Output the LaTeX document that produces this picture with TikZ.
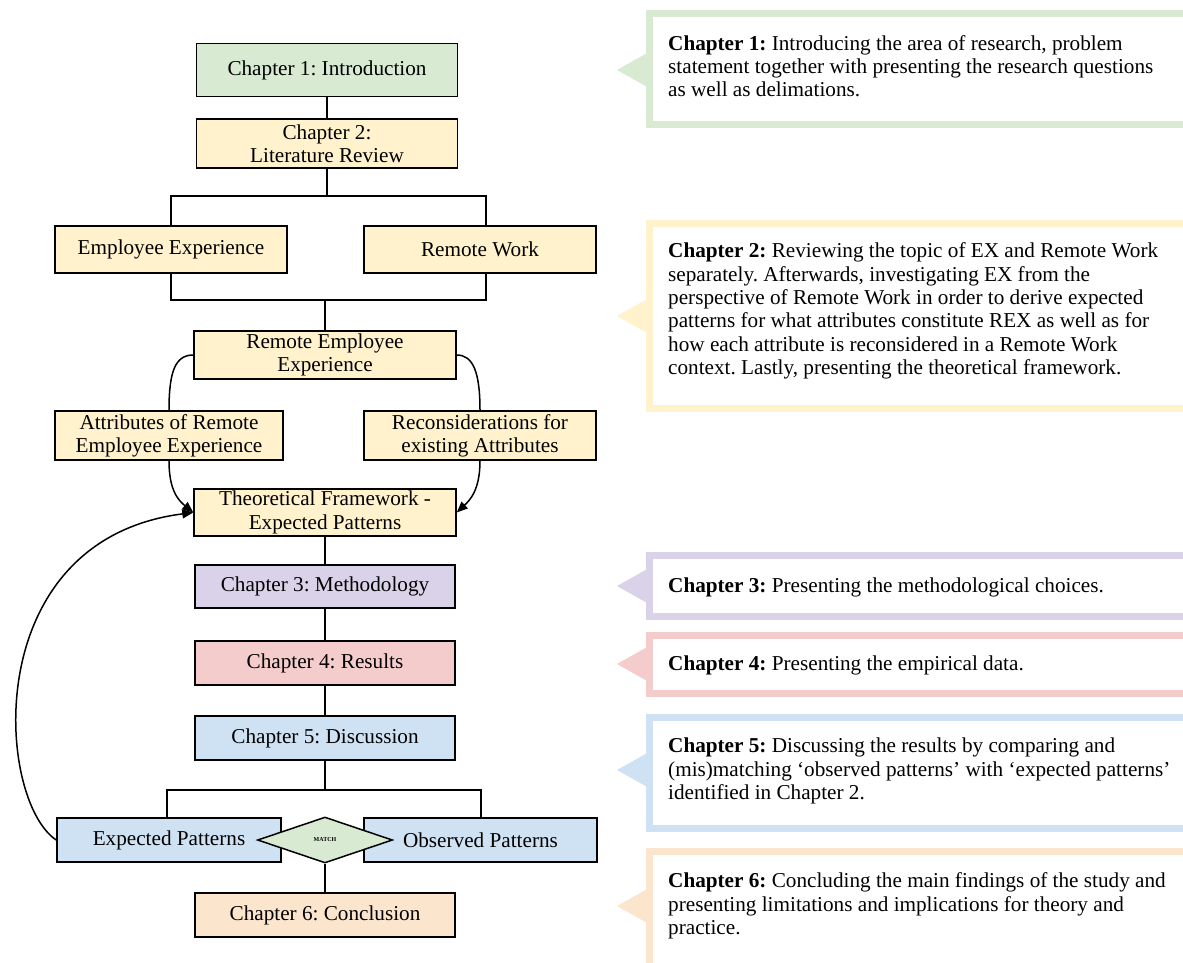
\documentclass[tikz,border=0pt]{standalone}
\usepackage{fontspec}
\setmainfont{Liberation Serif}
\usetikzlibrary{shapes.geometric,arrows.meta}
\definecolor{cgreen}{HTML}{D9EAD3}
\definecolor{cyellow}{HTML}{FFF2CC}
\definecolor{cpurple}{HTML}{D9D2E9}
\definecolor{cred}{HTML}{F4CCCC}
\definecolor{cblue}{HTML}{CFE2F3}
\definecolor{corange}{HTML}{FCE5CD}
\frenchspacing
\begin{document}
\begin{tikzpicture}[x=1pt,y=-1pt,
  box/.style={draw=black, line width=1.5pt, inner sep=0pt, align=center, font=\fontsize{21.2}{23.3}\selectfont},
  conn/.style={draw=black, line width=1.5pt},
  arr/.style={conn, -{Triangle[length=11pt,width=9pt]}},
  ctext/.style={anchor=west, align=left, inner sep=0pt, font=\fontsize{21.2}{23.3}\selectfont},
  cframe/.style={line width=7pt, fill=white},
]
\useasboundingbox (0,0) rectangle (1183,962);
\clip (0,0) rectangle (1183,962);
\fill[white] (0,0) rectangle (1183,962);

% ---------- left flow ----------
\node[box, fill=cgreen, minimum width=261pt, minimum height=53pt] (ch1) at (327,70) {Chapter 1: Introduction};
\node[box, fill=cyellow, minimum width=261pt, minimum height=49pt] (ch2) at (327,143.5) {Chapter 2:\\Literature Review};
\node[box, fill=cyellow, minimum width=232pt, minimum height=47pt] (ee) at (171,249.5) {Employee Experience};
\node[box, fill=cyellow, minimum width=232pt, minimum height=47pt] (rw) at (480,249.5) {Remote Work};
\node[box, fill=cyellow, minimum width=262pt, minimum height=48pt] (ree) at (325,355) {Remote Employee\\Experience};
\node[box, fill=cyellow, minimum width=228pt, minimum height=49pt] (attr) at (169,435.5) {Attributes of Remote\\Employee Experience};
\node[box, fill=cyellow, minimum width=232pt, minimum height=49pt] (recon) at (480,435.5) {Reconsiderations for\\existing Attributes};
\node[box, fill=cyellow, minimum width=262pt, minimum height=47pt] (tf) at (325,512.5) {Theoretical Framework -\\Expected Patterns};
\node[box, fill=cpurple, minimum width=260pt, minimum height=43pt] (ch3) at (325,586.5) {Chapter 3: Methodology};
\node[box, fill=cred, minimum width=260pt, minimum height=44pt] (ch4) at (325,663) {Chapter 4: Results};
\node[box, fill=cblue, minimum width=260pt, minimum height=44pt] (ch5) at (325,738) {Chapter 5: Discussion};
\node[box, fill=cblue, minimum width=224pt, minimum height=44pt] (ep) at (169,840) {Expected Patterns};
\node[box, fill=cblue, minimum width=233pt, minimum height=44pt] (op) at (480.5,840) {Observed Patterns};
\node[diamond, draw=black, line width=1.5pt, fill=cgreen, minimum width=135pt, minimum height=46pt, inner sep=0pt, font=\fontsize{6}{7}\selectfont\bfseries] (match) at (325,840) {MATCH};
\node[box, fill=corange, minimum width=260pt, minimum height=44pt] (ch6) at (325,915) {Chapter 6: Conclusion};

% ---------- connectors ----------
\coordinate (b1l) at (171,196); \coordinate (b1r) at (486,196);
\coordinate (b2l) at (171,300); \coordinate (b2r) at (486,300);
\coordinate (b3l) at (167,790); \coordinate (b3r) at (481,790);
\draw[conn] (ch1) -- (ch2);
\draw[conn] (ch2.south) -- (ch2.south |- b1l);
\draw[conn] (ee.north) -- (b1l) -- (b1r) -- (b1r |- rw.north);
\draw[conn] (ee.south) -- (b2l) -- (b2r) -- (b2r |- rw.south);
\draw[conn] (ree.north) -- (ree.north |- b2l);
\draw[conn] (ree.west) .. controls (175,355) and (169,372) .. (attr.north);
\draw[conn] (ree.east) .. controls (473,355) and (480,372) .. (recon.north);
\draw[arr] (attr.south) .. controls (169,490) and (178,500) .. (tf.west);
\draw[arr] (recon.south) .. controls (480,490) and (470,500) .. (tf.east);
\draw[conn] (tf) -- (ch3);
\draw[conn] (ch3) -- (ch4);
\draw[conn] (ch4) -- (ch5);
\draw[conn] (ch5.south) -- (ch5.south |- b3l);
\draw[conn] (b3l |- ep.north) -- (b3l) -- (b3r) -- (b3r |- op.north);
\draw[conn] (match.south) -- (ch6.north);
\draw[arr] (ep.west) .. controls (-4,800) and (-22,540) .. (tf.west);

% ---------- callouts ----------
\fill[cgreen] (617,70) -- (649,52) -- (649,88) -- cycle;
\draw[cframe, draw=cgreen] (649,13.5) rectangle (1200,124.5);
\node[ctext] (c1) at (668,66) {\textbf{Chapter 1:} Introducing the area of research, problem\\statement together with presenting the research questions\\as well as delimations.};

\fill[cyellow] (617,316) -- (649,298) -- (649,334) -- cycle;
\draw[cframe, draw=cyellow] (649,223.5) rectangle (1200,408.5);
\node[ctext] (c2) at (668,311) {\textbf{Chapter 2:} Reviewing the topic of EX and Remote Work\\separately. Afterwards, investigating EX from the\\perspective of Remote Work in order to derive expected\\patterns for what attributes constitute REX as well as for\\how each attribute is reconsidered in a Remote Work\\context. Lastly, presenting the theoretical framework.};

\fill[cpurple] (617,586) -- (649,568) -- (649,604) -- cycle;
\draw[cframe, draw=cpurple] (649,555.5) rectangle (1200,616.5);
\node[ctext] (c3) at (668,587) {\textbf{Chapter 3:} Presenting the methodological choices.};

\fill[cred] (617,664) -- (649,646) -- (649,682) -- cycle;
\draw[cframe, draw=cred] (649,635.5) rectangle (1200,693.5);
\node[ctext] (c4) at (668,665) {\textbf{Chapter 4:} Presenting the empirical data.};

\fill[cblue] (617,770) -- (649,752) -- (649,788) -- cycle;
\draw[cframe, draw=cblue] (649,717.5) rectangle (1200,828.5);
\node[ctext] (c5) at (668,771) {\textbf{Chapter 5:} Discussing the results by comparing and\\(mis)matching ‘observed patterns’ with ‘expected patterns’\\identified in Chapter 2.};

\fill[corange] (617,906) -- (649,888) -- (649,924) -- cycle;
\draw[cframe, draw=corange] (649,851.5) rectangle (1200,975);
\node[ctext] (c6) at (668,906) {\textbf{Chapter 6:} Concluding the main findings of the study and\\presenting limitations and implications for theory and\\practice.};
\end{tikzpicture}
\end{document}
